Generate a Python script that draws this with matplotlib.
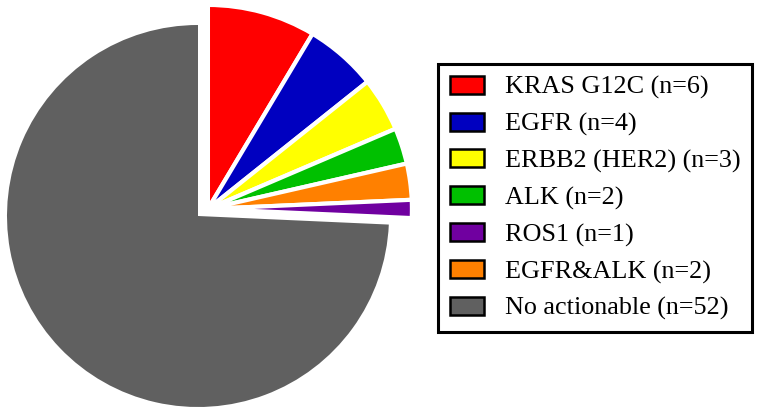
import matplotlib.pyplot as plt
from matplotlib.patches import Patch

# legend order
labels = ['KRAS G12C (n=6)', 'EGFR (n=4)', 'ERBB2 (HER2) (n=3)', 'ALK (n=2)',
          'ROS1 (n=1)', 'EGFR&ALK (n=2)', 'No actionable (n=52)']
counts = [6, 4, 3, 2, 1, 2, 52]
colors = ['#FF0000', '#0000C0', '#FFFF00', '#00C000', '#7000A0', '#FF8000', '#606060']
# order of slices going clockwise from 12 o'clock
pie_order = [0, 1, 2, 3, 5, 4, 6]

plt.rcParams['font.family'] = ['Liberation Serif', 'DejaVu Serif']

fig = plt.figure(figsize=(7.58, 4.15), dpi=100)
ax = fig.add_axes([0, 0, 1, 1])

wedges, _ = ax.pie([counts[i] for i in pie_order],
                   colors=[colors[i] for i in pie_order],
                   startangle=90, counterclock=False, radius=1,
                   wedgeprops=dict(edgecolor='white', linewidth=3))

# pull the actionable slices out as one block
for w in wedges[:-1]:
    w.set_center((0.052, 0.037))
    w.set_radius(1.068)
wedges[-1].set_linewidth(0)

ax.set_xlim(-198 / 191, 560 / 191)
ax.set_ylim(-199 / 191, 216 / 191)
ax.axis('off')

handles = [Patch(facecolor=c, edgecolor='black', linewidth=1.8) for c in colors]
leg = fig.legend(handles, labels, loc='upper left',
                 bbox_to_anchor=(438 / 758, 1 - 64 / 415), borderaxespad=0,
                 fontsize=18.8, handlelength=1.3, handleheight=0.68,
                 handletextpad=0.8, borderpad=0.45, labelspacing=0.51,
                 fancybox=False, edgecolor='black', framealpha=1)
leg.get_frame().set_linewidth(2.2)

fig.savefig('out.png', dpi=100)
